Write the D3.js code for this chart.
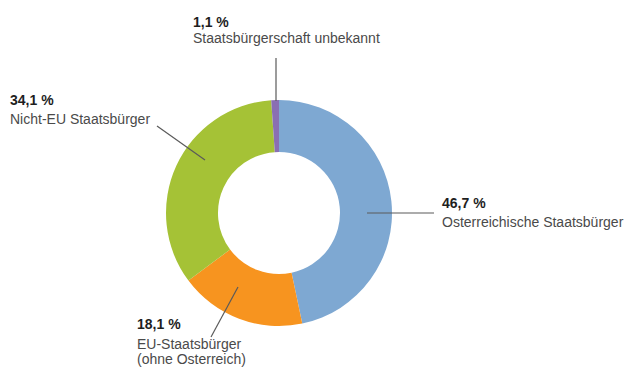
<!DOCTYPE html>
<html>
<head>
<meta charset="utf-8">
<script src="https://cdn.jsdelivr.net/npm/d3@7"></script>
<style>
  html, body { margin: 0; padding: 0; background: #fff; }
  svg { display: block; }
  text { font-family: "Liberation Sans", Arial, sans-serif; }
</style>
</head>
<body>
<svg id="chart" width="630" height="371"></svg>
<script>
// Share of population by citizenship (percent)
const categories = [
  "Osterreichische Staatsbürger",
  "EU-Staatsbürger (ohne Osterreich)",
  "Nicht-EU Staatsbürger",
  "Staatsbürgerschaft unbekannt"
];
const values = [46.7, 18.1, 34.1, 1.1];
const valueLabels = ["46,7 %", "18,1 %", "34,1 %", "1,1 %"];
const nameLines = [
  ["Osterreichische Staatsbürger"],
  ["EU-Staatsbürger", "(ohne Osterreich)"],
  ["Nicht-EU Staatsbürger"],
  ["Staatsbürgerschaft unbekannt"]
];
const colors = ["#7ea8d2", "#f7941f", "#a5c236", "#8a6fb3"];

// Label placement (value baseline, gap to name line) and leader lines
const layout = [
  { lx: 442, ly: 208, gap: 19, line: [[367, 213], [434, 213]] },
  { lx: 137, ly: 329, gap: 20, line: [[238, 287], [211, 337]] },
  { lx: 10,  ly: 105, gap: 19, line: [[205, 160], [157, 126]] },
  { lx: 193, ly: 27,  gap: 16, line: [[276, 101], [276, 58]] }
];

const svg = d3.select("#chart");
const cx = 279, cy = 213, outerR = 113, innerR = 61;

const pie = d3.pie().sort(null).value(d => d);
const arc = d3.arc().innerRadius(innerR).outerRadius(outerR);
const color = d3.scaleOrdinal().domain(categories).range(colors);

const g = svg.append("g").attr("transform", `translate(${cx},${cy})`);
g.selectAll("path")
  .data(pie(values))
  .join("path")
  .attr("d", arc)
  .attr("fill", (d, i) => color(categories[i]));

// Leader lines
svg.selectAll("line.leader")
  .data(layout)
  .join("line")
  .attr("class", "leader")
  .attr("x1", d => d.line[0][0]).attr("y1", d => d.line[0][1])
  .attr("x2", d => d.line[1][0]).attr("y2", d => d.line[1][1])
  .attr("stroke", "#5a5a5a")
  .attr("stroke-width", 1.2);

// Labels: bold value, then category name (one text per line)
const labels = svg.selectAll("g.label")
  .data(layout)
  .join("g")
  .attr("class", "label");

labels.append("text")
  .attr("x", d => d.lx).attr("y", d => d.ly)
  .attr("font-size", 14).attr("font-weight", "bold")
  .attr("fill", "#1e1e1e")
  .text((d, i) => valueLabels[i]);

labels.each(function (d, i) {
  const grp = d3.select(this);
  nameLines[i].forEach((ln, j) => {
    grp.append("text")
      .attr("x", d.lx)
      .attr("y", d.ly + d.gap + j * 15)
      .attr("font-size", 14)
      .attr("fill", "#4a4a4a")
      .text(ln);
  });
});
</script>
</body>
</html>
